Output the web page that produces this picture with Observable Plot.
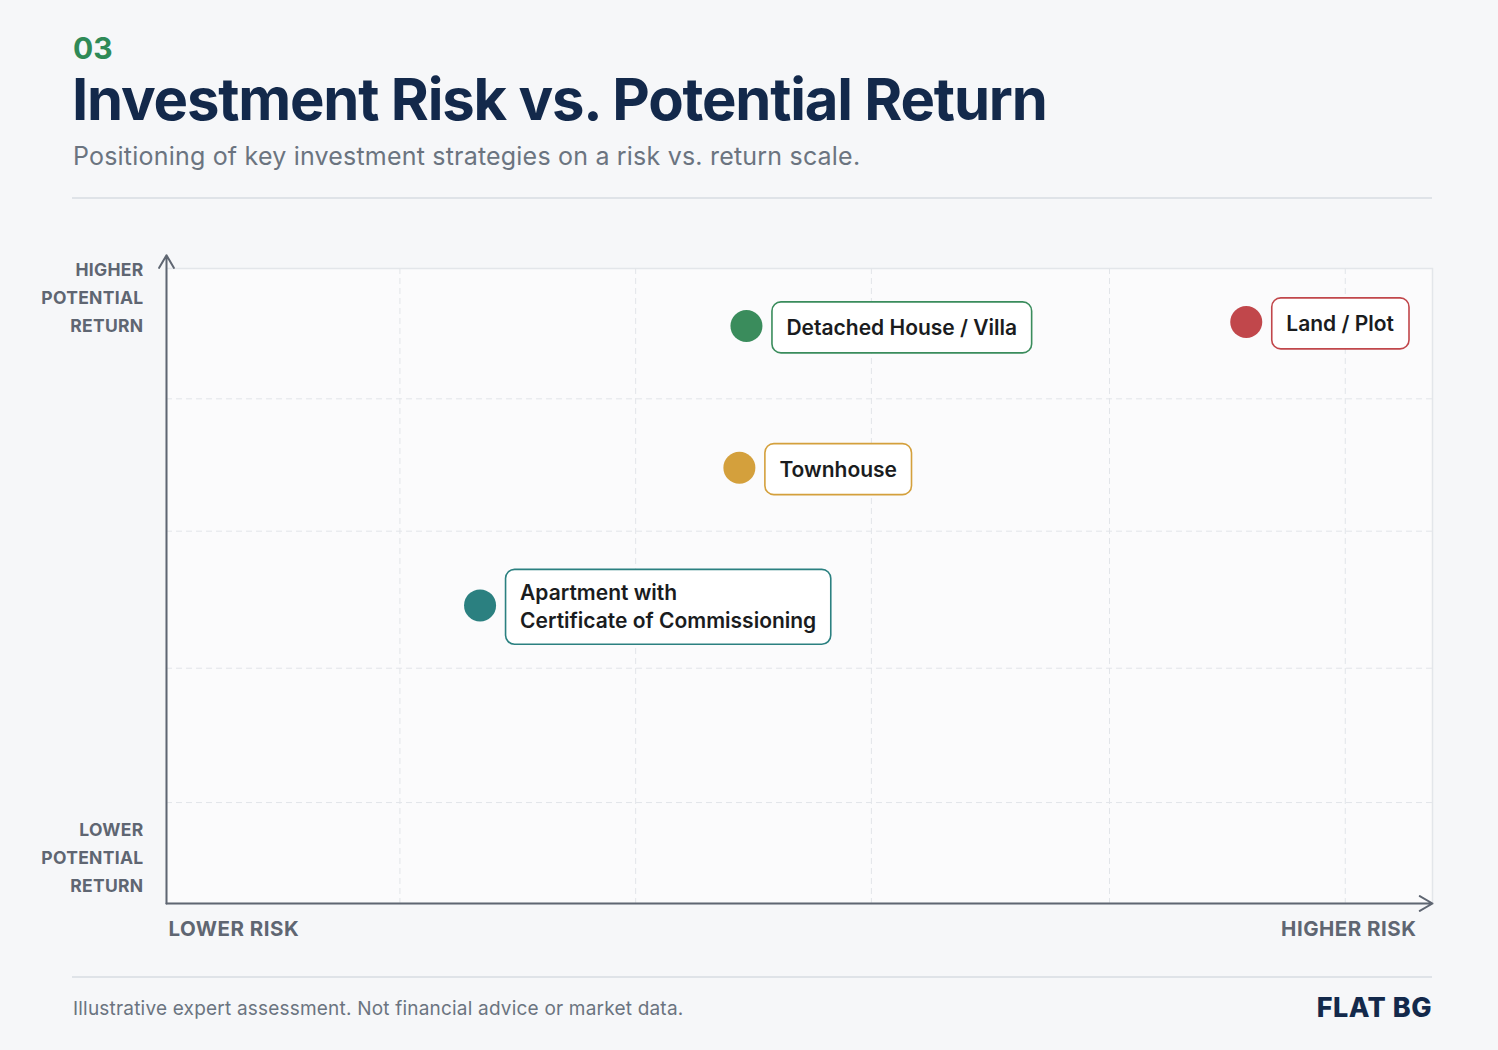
<!DOCTYPE html>
<html><head><meta charset="utf-8">
<script src="https://cdn.jsdelivr.net/npm/d3@7"></script>
<script src="https://cdn.jsdelivr.net/npm/@observablehq/plot@0.6"></script>
<style>
html,body{margin:0;padding:0}
body{background:#f6f7f9;width:1498px;height:1050px;position:relative;overflow:hidden;font-family:Inter,"Noto Sans",sans-serif}
.abs{position:absolute;white-space:nowrap;line-height:1}
#num{left:73px;top:33px;font-size:30px;font-weight:700;color:#2f8a57}
#title{left:72px;top:70px;font-size:58px;font-weight:700;color:#13294b;letter-spacing:-1.2px}
#sub{left:73px;top:144px;font-size:25px;color:#6b7480;letter-spacing:0.2px}
.rule{position:absolute;left:72px;width:1360px;height:2px;background:#dfe3e8}
#foot{left:73px;top:999px;font-size:19px;color:#6b7480;letter-spacing:0.2px}
#brand{right:66px;top:994px;font-size:27px;font-weight:800;color:#13294b;letter-spacing:0.5px}
#chart{position:absolute;left:0;top:220px}
</style></head><body>
<div class="abs" id="num">03</div>
<div class="abs" id="title">Investment Risk vs. Potential Return</div>
<div class="abs" id="sub">Positioning of key investment strategies on a risk vs. return scale.</div>
<div class="rule" style="top:197px"></div>
<div id="chart"></div>
<div class="rule" style="top:976px"></div>
<div class="abs" id="foot">Illustrative expert assessment. Not financial advice or market data.</div>
<div class="abs" id="brand">FLAT BG</div>
<script>
// Data
const names = ["Apartment with\nCertificate of Commissioning", "Townhouse", "Detached House / Villa", "Land / Plot"];
const risk = [1.33, 2.43, 2.46, 4.58];
const ret = [2.23, 3.26, 4.32, 4.35];
const colors = ["#2b8080", "#d4a03c", "#3a8c5c", "#c1474b"];
const xGrid = [0.99, 1.99, 2.99, 4.0, 5.0];
const yGrid = [0.755, 1.76, 2.785, 3.775];
const xMax = 5.37, yMax = 4.75, yArrowTip = 4.85;

const points = names.map((n, i) => ({name: n, risk: risk[i], ret: ret[i], color: colors[i]}));

const axisColor = "#5f6672";
const chart = Plot.plot({
  width: 1498, height: 740,
  marginLeft: 166, marginRight: 66, marginTop: 48, marginBottom: 57,
  style: {background: "transparent", fontFamily: "Inter, sans-serif", overflow: "visible"},
  x: {domain: [0, xMax], axis: null},
  y: {domain: [0, yMax], axis: null},
  marks: [
    Plot.frame({fill: "#fbfbfc", stroke: "#e3e6ea", strokeWidth: 1.5}),
    Plot.ruleX(xGrid, {stroke: "#e2e5e9", strokeDasharray: "6,4", strokeWidth: 1}),
    Plot.ruleY(yGrid, {stroke: "#e2e5e9", strokeDasharray: "6,4", strokeWidth: 1}),
    Plot.arrow([{x1: 0, y1: 0, x2: 0, y2: yArrowTip}], {x1: "x1", y1: "y1", x2: "x2", y2: "y2", stroke: axisColor, strokeWidth: 2, headLength: 11, clip: false}),
    Plot.arrow([{x1: 0, y1: 0, x2: xMax, y2: 0}], {x1: "x1", y1: "y1", x2: "x2", y2: "y2", stroke: axisColor, strokeWidth: 2, headLength: 11}),
    Plot.dot(points, {x: "risk", y: "ret", r: 16, fill: d => d.color, stroke: "none"}),
    Plot.text(points, {x: "risk", y: "ret", text: "name", dx: 40, textAnchor: "start", lineAnchor: "middle", lineHeight: 1.33, fontSize: 21, fontWeight: 600, fill: "#1a1c1e", ariaLabel: "labels"}),
    Plot.text(["HIGHER\nPOTENTIAL\nRETURN"], {frameAnchor: "top-left", textAnchor: "end", lineAnchor: "middle", dx: -23, dy: 27, lineHeight: 1.6, fontSize: 17.5, fontWeight: 700, fill: axisColor, style: {letterSpacing: "0.3px"}}),
    Plot.text(["LOWER\nPOTENTIAL\nRETURN"], {frameAnchor: "bottom-left", textAnchor: "end", lineAnchor: "middle", dx: -23, dy: -48, lineHeight: 1.6, fontSize: 17.5, fontWeight: 700, fill: axisColor}),
    Plot.text(["LOWER RISK"], {frameAnchor: "bottom-left", textAnchor: "start", lineAnchor: "middle", dx: 2, dy: 26, fontSize: 20.5, fontWeight: 700, fill: axisColor}),
    Plot.text(["HIGHER RISK"], {frameAnchor: "bottom-right", textAnchor: "end", lineAnchor: "middle", dx: -16, dy: 26, fontSize: 20.5, fontWeight: 700, fill: axisColor})
  ]
});
document.getElementById("chart").append(chart);

// letter spacing for axis captions
chart.querySelectorAll('g[aria-label="text"]').forEach((gg, k) => { if (k > 0) gg.setAttribute("letter-spacing", k >= 3 ? "0.5" : "0.3"); });

// Rounded label boxes behind label texts
const ns = "http://www.w3.org/2000/svg";
let texts = Array.from(chart.querySelectorAll('text[aria-label="labels"]'));
if (!texts.length) {
  const gl = chart.querySelector('g[aria-label="labels"]') || chart.querySelectorAll('g[aria-label="text"]')[0];
  texts = gl ? Array.from(gl.querySelectorAll("text")) : [];
}
texts.forEach((t, i) => {
  const bb = t.getBBox();
  const padX = 14.5, padY = bb.height > 40 ? 11 : 13;
  const r = document.createElementNS(ns, "rect");
  r.setAttribute("x", bb.x - padX);
  r.setAttribute("y", bb.y - padY);
  r.setAttribute("width", bb.width + 2 * padX);
  r.setAttribute("height", bb.height + 2 * padY);
  r.setAttribute("rx", 9);
  r.setAttribute("fill", "#ffffff");
  r.setAttribute("stroke", points[i].color);
  r.setAttribute("stroke-width", 1.6);
  const tr = t.getAttribute("transform");
  if (tr) r.setAttribute("transform", tr);
  t.parentNode.insertBefore(r, t);
});
</script>
</body></html>
